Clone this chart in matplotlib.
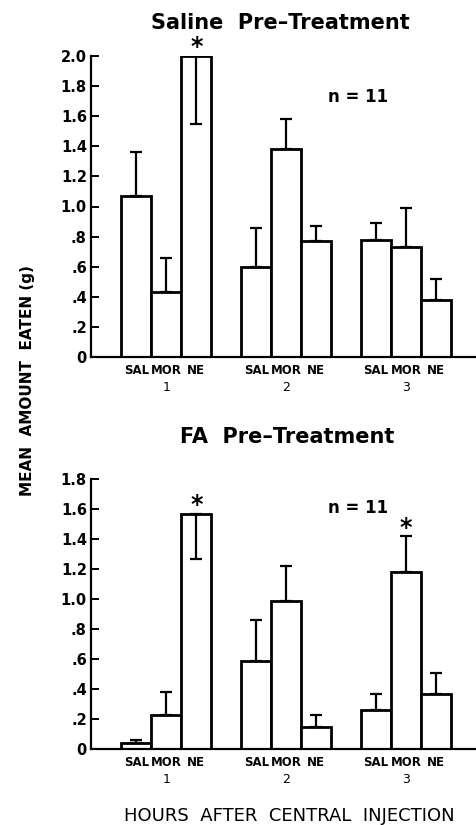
import matplotlib
matplotlib.use("Agg")
import matplotlib.pyplot as plt
from matplotlib.transforms import blended_transform_factory, ScaledTranslation
import numpy as np

# ---- data ----
drugs = ["SAL", "MOR", "NE"]
hours = ["1", "2", "3"]

saline_mean = [1.07, 0.43, 2.00, 0.60, 1.38, 0.77, 0.78, 0.73, 0.38]
saline_sem = [0.29, 0.23, 0.45, 0.26, 0.20, 0.10, 0.11, 0.26, 0.14]
saline_down = [False, False, True, False, False, False, False, False, False]
saline_star = [False, False, True, False, False, False, False, False, False]

fa_mean = [0.04, 0.23, 1.57, 0.59, 0.99, 0.15, 0.26, 1.18, 0.37]
fa_sem = [0.02, 0.15, 0.30, 0.27, 0.23, 0.08, 0.11, 0.24, 0.14]
fa_down = [False, False, True, False, False, False, False, False, False]
fa_star = [False, False, True, False, False, False, False, True, False]

saline_yticks = [0, 0.2, 0.4, 0.6, 0.8, 1.0, 1.2, 1.4, 1.6, 1.8, 2.0]
saline_yticklabels = ["0", ".2", ".4", ".6", ".8", "1.0", "1.2", "1.4", "1.6", "1.8", "2.0"]
fa_yticks = [0, 0.2, 0.4, 0.6, 0.8, 1.0, 1.2, 1.4, 1.6, 1.8]
fa_yticklabels = ["0", ".2", ".4", ".6", ".8", "1.0", "1.2", "1.4", "1.6", "1.8"]

titles = ["Saline  Pre\u2013Treatment", "FA  Pre\u2013Treatment"]
n_label = "n = 11"
xlabel = "HOURS  AFTER  CENTRAL  INJECTION"
ylabel = "MEAN  AMOUNT  EATEN (g)"

plt.rcParams['font.family'] = ['DejaVu Sans']
plt.rcParams['font.weight'] = 'bold'

W, H = 476, 825
fig = plt.figure(figsize=(W / 100, H / 100), dpi=100)

def px_axes(left, top, right, bottom):
    return fig.add_axes([left / W, 1 - bottom / H, (right - left) / W, (bottom - top) / H])

ax1 = px_axes(91, 56, 476, 357)
ax2 = px_axes(91, 479.3, 476, 749.3)

positions = []
for g in range(3):
    for d in range(3):
        positions.append(g * 4 + d)
positions = np.array(positions, dtype=float)
group_centers = [g * 4 + 1 for g in range(3)]

def draw(ax, mean, sem, down, star, ymax, yticks, yticklabels, n_y):
    mean = np.array(mean)
    sem = np.array(sem)
    down = np.array(down)
    ax.bar(positions, mean, width=1.0, color="white", edgecolor="black",
           linewidth=2.0, zorder=2)
    up_idx = ~down
    ax.errorbar(positions[up_idx], mean[up_idx],
                yerr=[np.zeros(up_idx.sum()), sem[up_idx]],
                fmt="none", ecolor="black", elinewidth=1.6, capsize=4.5,
                capthick=1.6, zorder=3)
    if down.any():
        ax.errorbar(positions[down], mean[down],
                    yerr=[sem[down], np.zeros(down.sum())],
                    fmt="none", ecolor="black", elinewidth=1.6, capsize=4.5,
                    capthick=1.6, zorder=3)
    for i, s in enumerate(star):
        if s:
            top = mean[i] if down[i] else mean[i] + sem[i]
            ax.annotate("*", (positions[i], top), xytext=(0, -2.5),
                        textcoords="offset points", ha="center", va="bottom",
                        fontsize=17, fontweight="bold", annotation_clip=False)
    ax.set_xlim(-1.51, 11.33)
    ax.set_ylim(0, ymax)
    ax.spines["top"].set_visible(False)
    ax.spines["right"].set_visible(False)
    ax.spines["left"].set_linewidth(1.6)
    ax.spines["bottom"].set_linewidth(1.6)
    ax.set_yticks(yticks)
    ax.set_yticklabels(yticklabels, fontsize=10.5, fontweight="bold")
    ax.tick_params(axis="y", direction="in", length=6, width=1.4, pad=3)
    ax.set_xticks(positions)
    ax.set_xticklabels(drugs * 3, fontsize=8.5, fontweight="bold")
    ax.tick_params(axis="x", length=0, pad=5)
    trans = blended_transform_factory(ax.transData, ax.transAxes) + \
        ScaledTranslation(0, -24 / 100, fig.dpi_scale_trans)
    for gc, h in zip(group_centers, hours):
        ax.text(gc, 0, h, transform=trans, ha="center", va="top",
                fontsize=9, fontweight="normal")
    ax.text(6.4, n_y, n_label, ha="left", va="center", fontsize=12,
            fontweight="bold")

draw(ax1, saline_mean, saline_sem, saline_down, saline_star, 2.0,
     saline_yticks, saline_yticklabels, 1.73)
draw(ax2, fa_mean, fa_sem, fa_down, fa_star, 1.8,
     fa_yticks, fa_yticklabels, 1.61)

fig.text(280 / W, 1 - 23 / H, titles[0], ha="center", va="center",
         fontsize=15, fontweight="bold")
fig.text(287 / W, 1 - 437 / H, titles[1], ha="center", va="center",
         fontsize=15, fontweight="bold")
fig.text(289 / W, 1 - 816 / H, xlabel, ha="center", va="center",
         fontsize=13, fontweight="normal")
fig.text(28 / W, 1 - 381 / H, ylabel, ha="center", va="center",
         rotation=90, fontsize=11, fontweight="bold")

fig.savefig("out.png", dpi=100)
